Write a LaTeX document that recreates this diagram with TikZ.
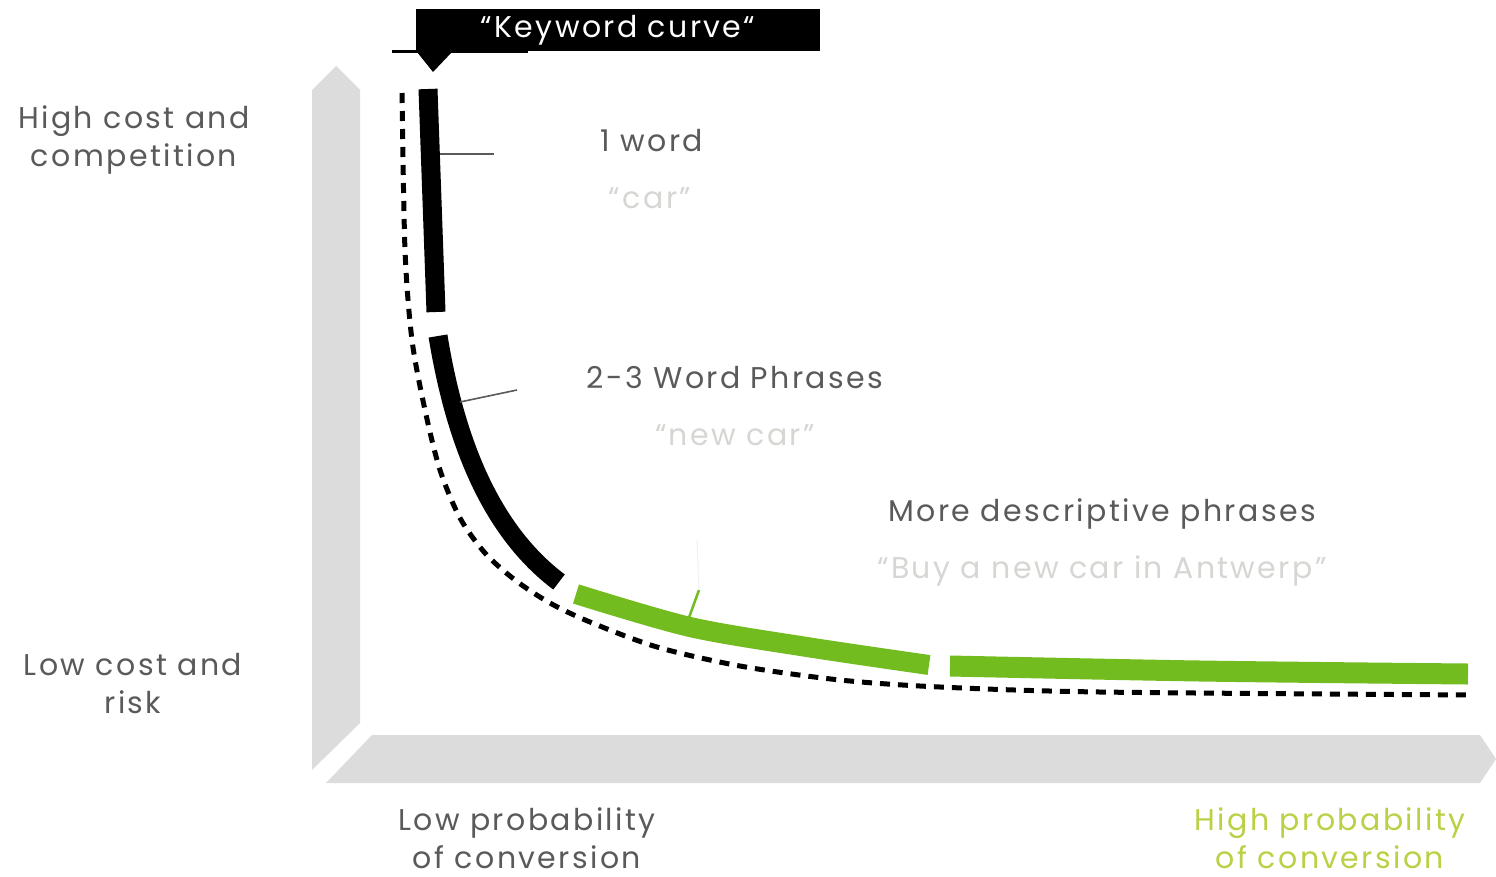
\documentclass[tikz,border=0pt]{standalone}
\usepackage{fontspec}
\setmainfont[LetterSpace=8]{Poppins}
\usetikzlibrary{positioning}

\definecolor{axisgrey}{HTML}{DCDCDC}
\definecolor{labelgrey}{HTML}{5A5A5A}
\definecolor{quotegrey}{HTML}{D6D6D3}
\definecolor{curvegreen}{HTML}{73BC1F}
\definecolor{highgreen}{HTML}{BCD045}

\tikzset{
  label/.style={text=labelgrey, font=\fontsize{30}{38}\selectfont, align=center, inner sep=0pt},
  quote/.style={text=quotegrey, font=\fontsize{30}{38}\selectfont, inner sep=0pt},
  band/.style={line width=19pt},
  leader/.style={line width=1.6pt, draw=labelgrey}
}

\begin{document}
\begin{tikzpicture}[x=1pt, y=-1pt]

        \useasboundingbox[fill=white] (0,0) rectangle (1496,876);

        % axes
        \fill[axisgrey] (336,66) -- (360,90) -- (360,723) -- (312,770) -- (312,90) -- cycle;
        \fill[axisgrey] (372,735) -- (1480,735) -- (1496,759) -- (1480,783) -- (326,783) -- cycle;

        % curve
        \draw[line width=5pt, dash pattern=on 10pt off 8pt] plot[smooth, tension=0.5] coordinates {
          (402,93) (405,250) (412,340) (425,410) (440,470) (460,518) (485,553) (515,580)
          (550,603) (590,622) (657,647) (740,666) (840,680) (940,687) (1100,692) (1470,695)};

        \draw[band] (428,89) -- (436,312);
        \draw[band] (438,336) .. controls (455,440) and (490,530) .. (559,582);
        \draw[band, draw=curvegreen, line width=20pt] plot[smooth] coordinates {(576,594) (690,627) (807,647) (929,665)};
        \draw[band, draw=curvegreen, line width=21pt] plot[smooth] coordinates {(950,666) (1200,671) (1468,674)};

        \begin{scope}[every node/.style={label}]
          \node (high)  at (134,140) {High cost and\\competition};
          \node (low)   at (133,684) {Low cost and\\risk};
          \node (one)   at (652,141) {1 word};
          \node (two)   at (735,378) {2-3 Word Phrases};
          \node (more)  at (1102,514) {More descriptive phrases};
          \node (lowp)  at (527,838) {Low probability\\of conversion};
          \node[text=highgreen] (highp) at (1330,838) {High probability\\of conversion};
        \end{scope}

        \begin{scope}[every node/.style={quote}]
          \node (car)    at (650,198) {“car”};
          \node (newcar) at (735,435) {“new car”};
          \node (buy)    at (1102,571) {“Buy a new car in Antwerp”};
        \end{scope}

        % leaders
        \coordinate (w1) at (440,154);
        \coordinate (e1) at (494,154);
        \coordinate (w2) at (460,402);
        \coordinate (e2) at (517,390);
        \coordinate (w3) at (687,623);
        \coordinate (m3) at (699,590);
        \coordinate (e3) at (697,540);
        \path[leader] (w1) edge (e1) (w2) edge (e2);
        \draw[line width=2.5pt, curvegreen] (w3) -- (m3);
        \draw[line width=1pt, gray!12] (m3) -- (e3);

        % callout
        \node[fill=black, text=white, minimum width=404pt, minimum height=42pt, inner sep=0pt,
              font=\fontsize{30}{34}\selectfont] (title) at (618,30) {“Keyword curve“};
        \draw[line width=3pt] (392,51.5) -- (528,51.5);
        \fill (417,52) -- (452,52) -- (433,72) -- cycle;

      \end{tikzpicture}
\end{document}
